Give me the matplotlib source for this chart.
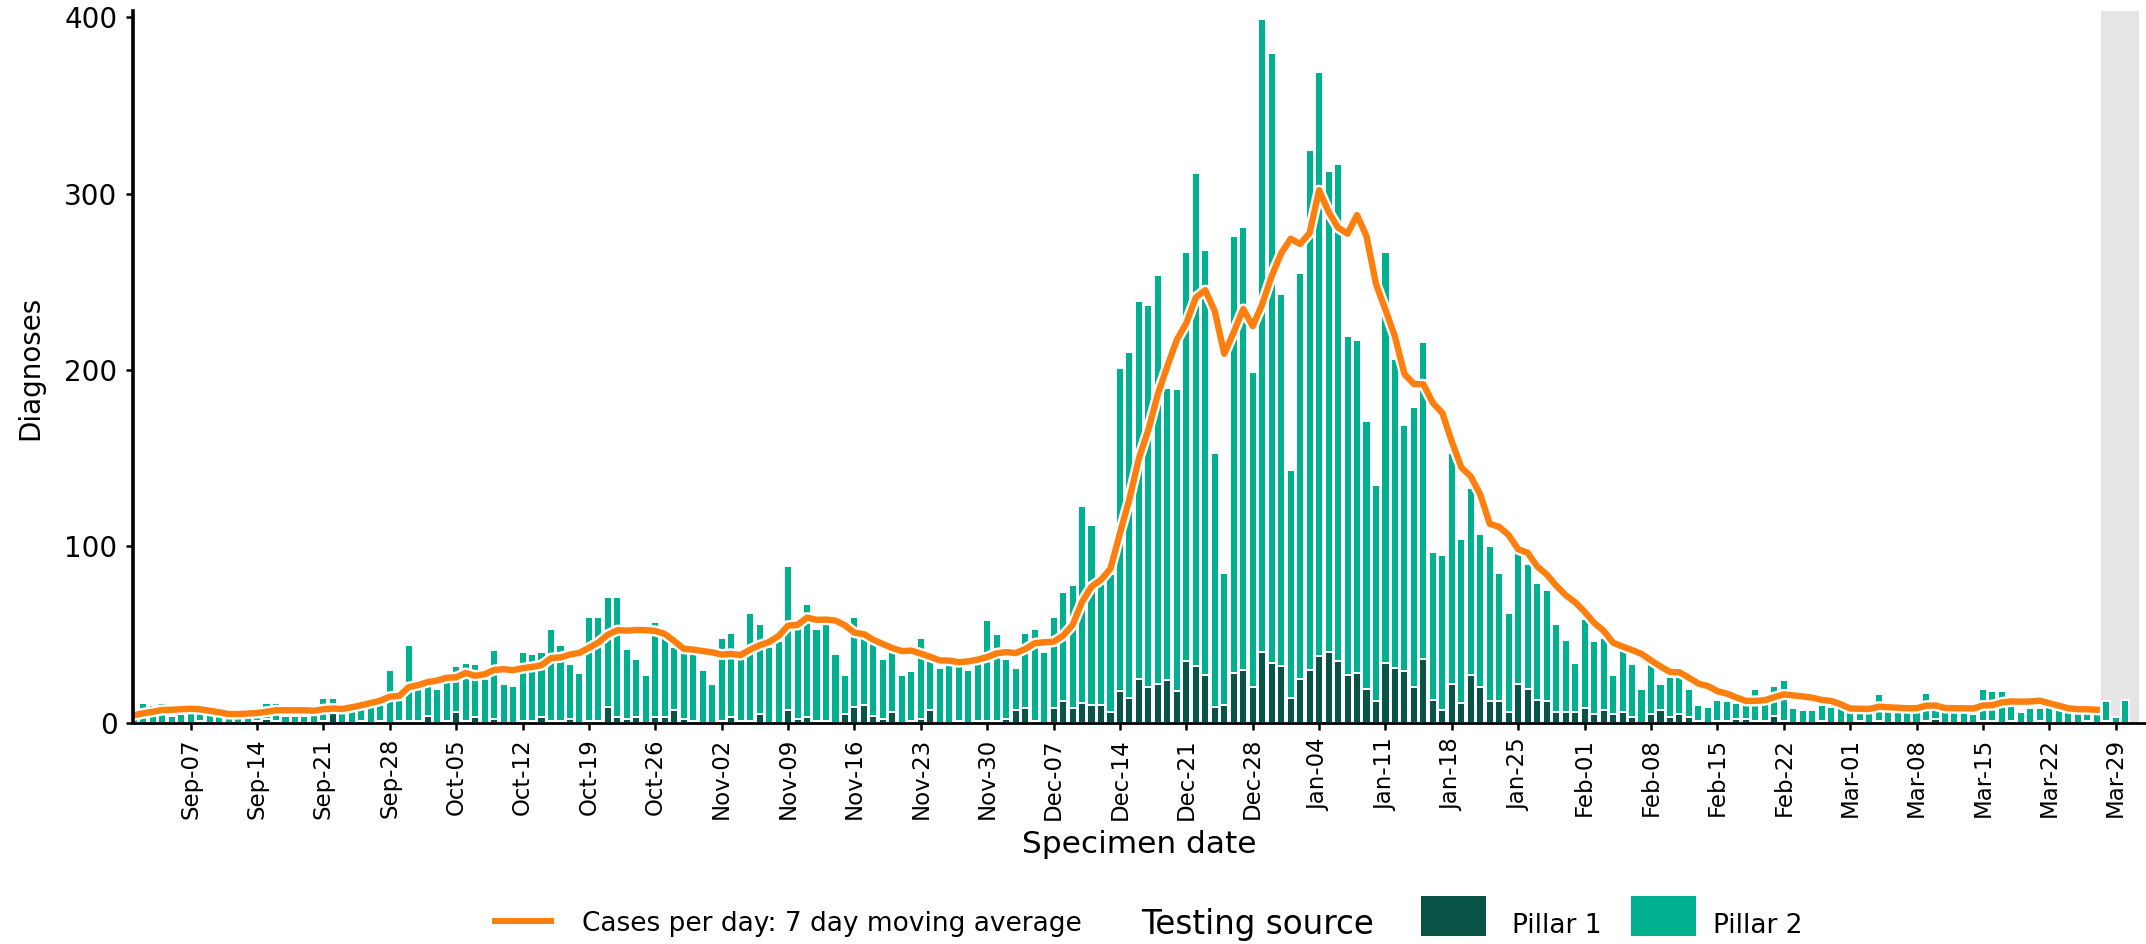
import matplotlib
matplotlib.use("Agg")
import matplotlib.pyplot as plt
import matplotlib.patheffects as pe
from matplotlib.patches import Rectangle
from matplotlib.lines import Line2D
import pandas as pd

days = pd.date_range("2020-09-01", "2021-03-30", freq="D")

# daily diagnoses, all sources (Sep .. Mar)
total = [
    # Sep
    8, 11, 10, 11, 4, 5, 6, 6, 5, 4, 4, 4, 7, 8, 11, 11, 4, 4, 4, 5,
    14, 14, 9, 11, 12, 13, 14, 30, 17, 44,
    # Oct
    19, 24, 19, 25, 32, 34, 33, 25, 41, 22, 21, 40, 39, 40, 53, 44, 33, 28, 60, 60,
    71, 71, 42, 36, 27, 57, 48, 43, 40, 39, 30,
    # Nov
    22, 48, 51, 38, 62, 56, 43, 46, 89, 54, 67, 53, 57, 39, 27, 60, 48, 45, 36, 41,
    27, 29, 48, 35, 31, 35, 35, 30, 36, 58,
    # Dec
    50, 36, 31, 51, 53, 40, 60, 74, 78, 123, 112, 80, 84, 201, 210, 239, 237, 254, 190, 189,
    267, 312, 268, 153, 85, 276, 281, 199, 399, 380, 243,
    # Jan
    143, 255, 325, 369, 313, 317, 219, 217, 171, 135, 267, 206, 169, 179, 216, 97, 95, 153, 104, 133,
    107, 100, 85, 62, 97, 90, 79, 75, 56, 47, 34,
    # Feb
    59, 46, 48, 27, 41, 33, 19, 33, 22, 26, 26, 19, 10, 9, 13, 12, 11, 12, 19, 13,
    21, 24, 8, 7, 7, 10, 9, 8,
    # Mar
    7, 7, 6, 16, 8, 7, 6, 7, 17, 7, 6, 7, 7, 5, 19, 18, 18, 10, 6, 8,
    8, 9, 8, 8, 6, 6, 6, 12, 3, 13,
]

pillar1 = [
    # Sep
    0, 0, 0, 0, 0, 0, 0, 1, 0, 0, 0, 0, 0, 1, 2, 1, 0, 0, 0, 0,
    1, 6, 0, 0, 1, 0, 1, 0, 1, 1,
    # Oct
    1, 4, 0, 1, 6, 1, 3, 0, 2, 0, 0, 1, 1, 3, 1, 1, 2, 0, 1, 1,
    9, 3, 2, 3, 0, 3, 3, 7, 2, 1, 0,
    # Nov
    0, 1, 3, 1, 1, 5, 0, 0, 7, 2, 3, 1, 1, 0, 5, 9, 10, 4, 2, 6,
    0, 1, 2, 7, 0, 0, 1, 0, 1, 1,
    # Dec
    1, 2, 7, 8, 1, 0, 8, 12, 8, 11, 10, 10, 6, 18, 14, 25, 20, 22, 24, 18,
    35, 32, 27, 9, 10, 28, 30, 20, 40, 34, 32,
    # Jan
    14, 25, 30, 38, 40, 35, 27, 28, 19, 12, 34, 31, 29, 20, 36, 13, 7, 22, 11, 27,
    20, 12, 12, 6, 22, 19, 13, 12, 6, 6, 6,
    # Feb
    8, 5, 7, 5, 6, 3, 0, 5, 7, 3, 5, 3, 1, 0, 1, 1, 2, 2, 1, 1,
    4, 1, 0, 0, 0, 1, 0, 0,
    # Mar
    0, 1, 0, 1, 0, 0, 0, 0, 1, 2, 0, 0, 0, 0, 1, 1, 0, 1, 0, 0,
    1, 0, 0, 0, 0, 1, 0, 1, 0, 0,
]

# last days of August, only used to start the 7 day average
aug_tail = [3, 4, 4, 3, 3, 4]

pillar2 = [t - p for t, p in zip(total, pillar1)]
ma = pd.Series(aug_tail + total).rolling(7).mean().iloc[6:].to_numpy()
n_complete = len(days) - 3  # last 3 days are incomplete (shaded)

week_ticks = pd.date_range("2020-09-07", "2021-03-29", freq="7D")
tick_labels = [d.strftime("%b-%d") for d in week_ticks]

dark = "#0a5447"
teal = "#00b08f"
orange = "#ff7f0e"

W, H = 2146, 944
fig = plt.figure(figsize=(W / 100, H / 100), dpi=100)
ax = fig.add_axes([132.8 / W, 1 - 722.6 / H, (W - 132.8) / W, (722.6 - 11) / H])

one = pd.Timedelta(days=1)
ax.axvspan(pd.Timestamp("2021-03-27") + 0.5 * one, pd.Timestamp("2021-03-31") + 0.5 * one,
           color="#e5e5e5", lw=0, zorder=0)

ax.bar(days, pillar1, width=0.85, color=dark, edgecolor="white", linewidth=1.4, zorder=1)
ax.bar(days, pillar2, bottom=pillar1, width=0.85, color=teal, edgecolor="white",
       linewidth=1.4, zorder=1)

ax.plot(days[:n_complete], ma[:n_complete], color=orange, lw=4.6, zorder=2.2,
        solid_joinstyle="round",
        path_effects=[pe.Stroke(linewidth=8.0, foreground="white"), pe.Normal()])

ax.set_xlim(pd.Timestamp("2020-09-01") - 0.1 * one, pd.Timestamp("2021-04-01") + 0.2 * one)
ax.set_ylim(0, 403.6)

ax.set_xticks(week_ticks)
ax.set_xticklabels(tick_labels, rotation=90, ha="center", va="top", fontsize=16.5)
ax.set_yticks([0, 100, 200, 300, 400])
ax.set_yticklabels(["0", "100", "200", "300", "400"], fontsize=20)
ax.tick_params(axis="both", direction="out", length=5, width=1.8, color="black")
ax.tick_params(axis="x", pad=6)
ax.tick_params(axis="y", pad=6)

for side in ["top", "right"]:
    ax.spines[side].set_visible(False)
ax.spines["left"].set_linewidth(2.6)
ax.spines["bottom"].set_linewidth(2.0)
ax.set_facecolor("white")

fig.text(30 / W, 1 - 368 / H, "Diagnoses", rotation=90, ha="center", va="center", fontsize=20)
fig.text(1139 / W, 1 - 853 / H, "Specimen date", ha="center", va="baseline", fontsize=22.5)

# legend row
fig.add_artist(Line2D([492 / W, 554 / W], [1 - 921 / H, 1 - 921 / H], color=orange, lw=4.3,
                      transform=fig.transFigure, solid_capstyle="butt"))
fig.text(582 / W, 1 - 931 / H, "Cases per day: 7 day moving average", ha="left", va="baseline",
         fontsize=19)
fig.text(1141 / W, 1 - 934 / H, "Testing source", ha="left", va="baseline", fontsize=23.5)
fig.add_artist(Rectangle((1421 / W, 1 - 936 / H), 65 / W, 40 / H, transform=fig.transFigure,
                         facecolor=dark, edgecolor="none"))
fig.text(1512 / W, 1 - 933 / H, "Pillar 1", ha="left", va="baseline", fontsize=19)
fig.add_artist(Rectangle((1631 / W, 1 - 936 / H), 65 / W, 40 / H, transform=fig.transFigure,
                         facecolor=teal, edgecolor="none"))
fig.text(1713 / W, 1 - 933 / H, "Pillar 2", ha="left", va="baseline", fontsize=19)

fig.savefig("out.png", dpi=100, facecolor="white")
